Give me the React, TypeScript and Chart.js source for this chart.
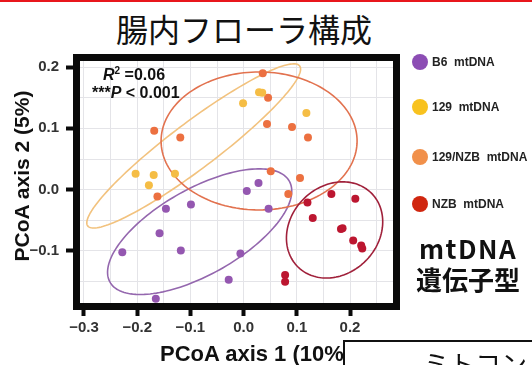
import { useEffect, useRef } from "react";
import { Chart, registerables } from "chart.js";

Chart.register(...registerables);

// PCoA coordinates per mtDNA genotype (axis 1, axis 2)
const b6X = [-0.146, -0.099, 0.006, 0.028, 0.047, -0.158, -0.228, -0.118, -0.006, -0.028, -0.165];
const b6Y = [-0.031, -0.024, -0.002, 0.011, -0.031, -0.071, -0.102, -0.099, -0.104, -0.147, -0.178];

const m129X = [-0.203, -0.169, -0.129, -0.178, 0.029, 0.035, -0.001, 0.118];
const m129Y = [0.026, 0.024, 0.026, 0.007, 0.159, 0.158, 0.141, 0.125];

const m129nzbX = [0.036, 0.046, 0.044, 0.091, 0.121, 0.051, 0.106, 0.084, -0.168, -0.119, -0.162];
const m129nzbY = [0.19, 0.15, 0.107, 0.102, 0.085, 0.03, 0.019, -0.007, 0.096, 0.085, -0.011];

const nzbX = [0.12, 0.165, 0.21, 0.13, 0.183, 0.186, 0.206, 0.221, 0.223, 0.078, 0.078];
const nzbY = [-0.021, -0.007, -0.015, -0.046, -0.064, -0.063, -0.083, -0.091, -0.096, -0.139, -0.15];

const groupNames = ["B6  mtDNA", "129  mtDNA", "129/NZB  mtDNA", "NZB  mtDNA"];
const legendColors = ["#8C4DB4", "#F8C21E", "#F1904A", "#D0260F"];
const pointColors = ["#9457B0", "#F5BD45", "#EC7040", "#BC1630"];
const ellipseColors = ["#9467AE", "#F2C27E", "#E2724F", "#A0203A"];

// Confidence ellipses: centre and two conjugate half-axes, in data units
const ellipseCX = [-0.0826, -0.0938, 0.0291, 0.171];
const ellipseCY = [-0.0685, 0.0713, 0.0794, -0.0657];
const ellipseUX = [0.169, 0.1992, 0.1842, 0.0692];
const ellipseUY = [0.0816, 0.1304, 0.0, 0.06];
const ellipseVX = [0.0375, 0.0263, 0.0, 0.0583];
const ellipseVY = [-0.062, -0.0302, 0.1125, -0.0505];

// Axes
const xGridValues = [-0.3, -0.25, -0.2, -0.15, -0.1, -0.05, 0, 0.05, 0.1, 0.15, 0.2, 0.25];
const xMajor = [-0.3, -0.2, -0.1, 0, 0.1, 0.2];
const xTickLabels = ["\u22120.3", "\u22120.2", "\u22120.1", "0.0", "0.1", "0.2"];
const yGridValues = [-0.15, -0.1, -0.05, 0, 0.05, 0.1, 0.15, 0.2];
const yMajor = [-0.1, 0, 0.1, 0.2];
const yTickLabels = ["\u22120.1", "0.0", "0.1", "0.2"];

const seriesX = [b6X, m129X, m129nzbX, nzbX];
const seriesY = [b6Y, m129Y, m129nzbY, nzbY];

const majorIndex = (majors: number[], v: number) =>
  majors.findIndex((m) => Math.abs(m - v) < 1e-6);

const ellipsePlugin = {
  id: "groupEllipses",
  beforeDatasetsDraw(chart: any) {
    const { ctx, chartArea, scales } = chart;
    const xs = scales.x;
    const ys = scales.y;
    ctx.save();
    ctx.beginPath();
    ctx.rect(chartArea.left, chartArea.top, chartArea.width, chartArea.height);
    ctx.clip();
    const steps = 160;
    for (let i = 0; i < ellipseCX.length; i++) {
      ctx.beginPath();
      for (let k = 0; k <= steps; k++) {
        const t = (2 * Math.PI * k) / steps;
        const dx = ellipseCX[i] + Math.cos(t) * ellipseUX[i] + Math.sin(t) * ellipseVX[i];
        const dy = ellipseCY[i] + Math.cos(t) * ellipseUY[i] + Math.sin(t) * ellipseVY[i];
        const px = xs.getPixelForValue(dx);
        const py = ys.getPixelForValue(dy);
        if (k === 0) ctx.moveTo(px, py);
        else ctx.lineTo(px, py);
      }
      ctx.closePath();
      ctx.strokeStyle = ellipseColors[i];
      ctx.lineWidth = 1.6;
      ctx.stroke();
    }
    ctx.restore();
  },
};

const framePlugin = {
  id: "panelFrame",
  afterDraw(chart: any) {
    const { ctx, chartArea } = chart;
    ctx.save();
    ctx.strokeStyle = "#0a0a0a";
    ctx.lineWidth = 7;
    ctx.strokeRect(
      chartArea.left - 3.5,
      chartArea.top - 3.5,
      chartArea.width + 7,
      chartArea.height + 7
    );
    ctx.restore();
  },
};

const tickFont = { family: '"Liberation Sans", Arial, sans-serif', size: 15, weight: "bold" as const };

function PCoAChart() {
  const ref = useRef<HTMLCanvasElement | null>(null);

  useEffect(() => {
    if (!ref.current) return;
    const datasets = seriesX.map((xs, g) => ({
      label: groupNames[g],
      data: xs.map((x, i) => ({ x, y: seriesY[g][i] })),
      pointRadius: 4,
      pointHoverRadius: 4,
      pointBackgroundColor: pointColors[g],
      pointBorderWidth: 0,
      borderWidth: 0,
    }));

    const chart = new Chart(ref.current, {
      type: "scatter",
      data: { datasets },
      plugins: [ellipsePlugin, framePlugin],
      options: {
        animation: false,
        responsive: false,
        devicePixelRatio: 1,
        layout: { padding: { top: 61, right: 139, left: 0, bottom: 0 } },
        plugins: {
          legend: { display: false },
          tooltip: { enabled: false },
          title: { display: false },
        },
        scales: {
          x: {
            type: "linear",
            min: -0.3075,
            max: 0.2808,
            afterFit: (s: any) => {
              s.height = 62;
            },
            afterBuildTicks: (s: any) => {
              s.ticks = xGridValues.map((v) => ({ value: v }));
            },
            border: { display: false },
            grid: {
              color: "#E4E4E8",
              lineWidth: 1,
              tickLength: 13,
              tickWidth: 4,
              tickColor: (c: any) =>
                c.tick && majorIndex(xMajor, c.tick.value) >= 0 ? "#0a0a0a" : "rgba(0,0,0,0)",
            },
            ticks: {
              autoSkip: false,
              maxRotation: 0,
              padding: 3,
              color: "#333333",
              font: tickFont,
              callback: (v: any) => {
                const i = majorIndex(xMajor, Number(v));
                return i >= 0 ? xTickLabels[i] : "";
              },
            },
          },
          y: {
            type: "linear",
            min: -0.1848,
            max: 0.2098,
            afterFit: (s: any) => {
              s.width = 80;
            },
            afterBuildTicks: (s: any) => {
              s.ticks = yGridValues.map((v) => ({ value: v }));
            },
            border: { display: false },
            grid: {
              color: "#E4E4E8",
              lineWidth: 1,
              tickLength: 14,
              tickWidth: 4,
              tickColor: (c: any) =>
                c.tick && majorIndex(yMajor, c.tick.value) >= 0 ? "#0a0a0a" : "rgba(0,0,0,0)",
            },
            ticks: {
              autoSkip: false,
              padding: 7,
              color: "#333333",
              font: tickFont,
              callback: (v: any) => {
                const i = majorIndex(yMajor, Number(v));
                return i >= 0 ? yTickLabels[i] : "";
              },
            },
          },
        },
      },
    });
    return () => chart.destroy();
  }, []);

  return (
    <canvas
      ref={ref}
      width={532}
      height={365}
      style={{ position: "absolute", left: 0, top: 0, width: 532, height: 365 }}
    />
  );
}

const latin = '"Liberation Sans", Arial, sans-serif';
const cjk = '"Noto Sans CJK JP", "Noto Sans", sans-serif';
const legendY = [62, 107, 157, 204];

export default function App() {
  return (
    <div
      style={{
        position: "absolute",
        left: 0,
        top: 0,
        width: 532,
        height: 365,
        overflow: "hidden",
        background: "#ffffff",
        color: "#111",
      }}
    >
      <div style={{ position: "absolute", left: 0, top: 0, width: 532, height: 2, background: "#E8161C" }} />
      <div
        style={{
          position: "absolute",
          left: 0,
          top: 8,
          width: 488,
          textAlign: "center",
          fontFamily: cjk,
          fontSize: 32,
          lineHeight: "40px",
          fontWeight: 400,
          color: "#111",
        }}
      >
        腸内フローラ構成
      </div>

      <PCoAChart />

      {/* statistics annotation */}
      <div
        style={{
          position: "absolute",
          left: 103,
          top: 66,
          fontFamily: latin,
          fontWeight: "bold",
          fontSize: 16,
          lineHeight: "18px",
          whiteSpace: "pre",
          color: "#111",
        }}
      >
        <i>R</i>
        <span style={{ fontSize: 10, position: "relative", top: -6 }}>2</span> =0.06
      </div>
      <div
        style={{
          position: "absolute",
          left: 92,
          top: 84,
          fontFamily: latin,
          fontWeight: "bold",
          fontSize: 16,
          lineHeight: "18px",
          whiteSpace: "pre",
          color: "#111",
        }}
      >
        ***<i>P</i> {"< 0.001"}
      </div>

      {/* axis titles */}
      <div
        style={{
          position: "absolute",
          left: 22 - 120,
          top: 176 - 13,
          width: 240,
          height: 26,
          lineHeight: "26px",
          textAlign: "center",
          transform: "rotate(-90deg)",
          transformOrigin: "50% 50%",
          fontFamily: latin,
          fontWeight: "bold",
          fontSize: 21,
          whiteSpace: "nowrap",
          color: "#111",
        }}
      >
        PCoA axis 2 (5%)
      </div>
      <div
        style={{
          position: "absolute",
          left: 160,
          top: 342,
          lineHeight: "24px",
          fontFamily: latin,
          fontWeight: "bold",
          fontSize: 22,
          whiteSpace: "nowrap",
          color: "#111",
        }}
      >
        PCoA axis 1 (10%)
      </div>

      {/* legend */}
      {groupNames.map((name, i) => (
        <div key={name}>
          <div
            style={{
              position: "absolute",
              left: 412,
              top: legendY[i] - 8,
              width: 16,
              height: 16,
              borderRadius: 8,
              background: legendColors[i],
            }}
          />
          <div
            style={{
              position: "absolute",
              left: 432,
              top: legendY[i] - 8,
              height: 16,
              lineHeight: "16px",
              fontFamily: latin,
              fontWeight: "bold",
              fontSize: 12,
              whiteSpace: "pre",
              color: "#222",
            }}
          >
            {name}
          </div>
        </div>
      ))}
      <div
        style={{
          position: "absolute",
          left: 408,
          top: 232,
          width: 120,
          textAlign: "center",
          fontFamily: cjk,
          fontWeight: 700,
          fontSize: 26,
          lineHeight: "31px",
          color: "#111",
        }}
      >
        <div style={{ letterSpacing: 1.5 }}>mtDNA</div>
        <div>遺伝子型</div>
      </div>

      {/* boxed caption along the bottom edge */}
      <div
        style={{
          position: "absolute",
          left: 343,
          top: 340,
          width: 200,
          height: 40,
          border: "2px solid #111",
          background: "#fff",
          boxSizing: "border-box",
        }}
      >
        <div
          style={{
            position: "absolute",
            left: 78,
            top: 6,
            fontFamily: cjk,
            fontSize: 26,
            lineHeight: "30px",
            whiteSpace: "nowrap",
            color: "#111",
          }}
        >
          ミトコンドリア
        </div>
      </div>
    </div>
  );
}
